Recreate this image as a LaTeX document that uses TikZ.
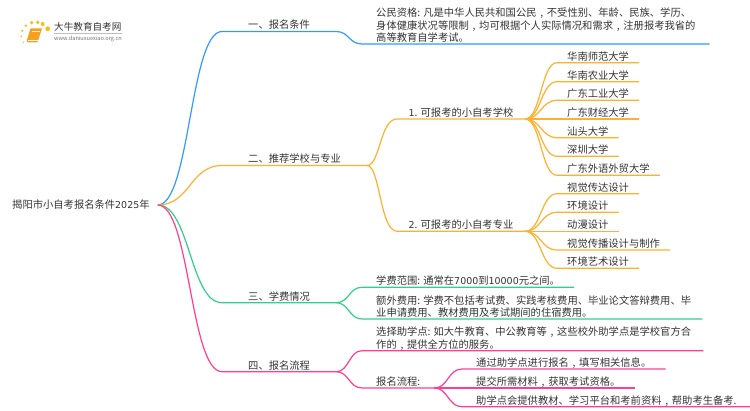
\documentclass[tikz,border=0pt]{standalone}
\usepackage{fontspec}
\setmainfont{Noto Sans CJK SC}
\newfontfamily\numfont{DejaVu Sans}[Scale=0.92]
\newcommand{\zhcomma}{\hbox to 1em{\hss,\hss}}
\definecolor{bluebranch}{HTML}{3299FF}
\definecolor{orangebranch}{HTML}{FFB02E}
\definecolor{greenbranch}{HTML}{2FD08A}
\definecolor{pinkbranch}{HTML}{FF3D94}
\definecolor{inktext}{HTML}{333333}
\definecolor{logoorange}{HTML}{F7A01E}
\tikzset{
  topic/.style={anchor=south west, inner ysep=0pt, inner xsep=#1, align=left, text=inktext,
    text depth=2.4pt, font=\fontsize{10.3}{12.4}\selectfont},
  topic/.default=14pt,
  blueline/.style={draw=bluebranch, line width=1.2pt},
  orangeline/.style={draw=orangebranch, line width=1.2pt},
  greenline/.style={draw=greenbranch, line width=1.2pt},
  pinkline/.style={draw=pinkbranch, line width=1.2pt},
  sundot/.style={fill=logoorange!70!yellow, draw=none}
}
\begin{document}
\begin{tikzpicture}[x=1pt, y=-1pt]
    \useasboundingbox (0,0) rectangle (750,410);

    %----------------------
    % LOGO
    %----------------------
    \fill[sundot] (47.7,28.7) circle (2.4);
    \fill[sundot] (42.7,24) circle (2);
    \fill[sundot] (37.7,22.3) circle (1.9);
    \fill[sundot] (31.7,22.7) circle (1.8);
    \fill[sundot] (26,25.7) circle (1.4);
    \fill[sundot] (22.3,30.7) circle (1.2);
    \fill[sundot] (21.3,36.3) circle (1);
    \fill[sundot] (23.3,42.3) circle (.8);
    % Book
    \fill[logoorange] (30.5,28.3) -- (42,28.3) -- (38,41) -- (37,42.3) -- (28,42.3) -- (26.7,41) -- cycle;
    \draw[white, line width=.6pt] (28,40) -- (38,40);
    \draw[white!80!logoorange, line width=.5pt] (32,31) -- (39.5,31);
    \node[inner sep=0pt, anchor=west, text=inktext, font=\fontsize{9.6}{11}\selectfont] (logoname) at (54,27) {大牛教育自考网};
    \draw[black!25, line width=.4pt] (54,33) -- (122,33);
    \node[inner sep=0pt, anchor=west, text=black!55, font=\fontsize{5.6}{7}\selectfont] (logourl) at (54,38.5) {www.daniuxuexiao.org.cn};

    %----------------------
    % ROOT
    %----------------------
    \node[anchor=west, inner xsep=8pt, inner ysep=2pt, text=inktext, font=\fontsize{10.3}{12.4}\selectfont] (root) at (4,205) {揭阳市小自考报名条件{\numfont 2025}年};

    %----------------------
    % BRANCH 1
    %----------------------
    \node[topic=26pt] (reg) at (222,31.5) {一、报名条件};
    \node[topic] (regtext) at (362,44) {公民资格: 凡是中华人民共和国公民\zhcomma 不受性别、年龄、民族、学历、\\身体健康状况等限制\zhcomma 均可根据个人实际情况和需求\zhcomma 注册报考我省的\\高等教育自学考试。};

    \draw[blueline] (root.east) .. controls (190,205) and (190,31.5) .. (reg.south west) -- (reg.south east);
    \draw[blueline] (reg.south east) .. controls (349,31.5) and (349,44) .. (regtext.south west) -- (regtext.south east);

    %----------------------
    % BRANCH 2
    %----------------------
    \node[topic=26pt] (rec) at (222,165.5) {二、推荐学校与专业};
    \node[topic=11.5pt] (school) at (397,119) {{\numfont 1}. 可报考的小自考学校};
    \node[topic=11.5pt] (major) at (397,231.3) {{\numfont 2}. 可报考的小自考专业};

    \draw[orangeline] (root.east) .. controls (190,205) and (190,165.5) .. (rec.south west) -- (rec.south east);
    \draw[orangeline] (rec.south east) .. controls (380,165.5) and (380,119) .. (school.south west) -- (school.south east);
    \draw[orangeline] (rec.south east) .. controls (380,165.5) and (380,231.3) .. (major.south west) -- (major.south east);

    % Schools
    \node[topic=10pt] (s1) at (557,62.7) {华南师范大学};
    \node[topic=10pt] (s2) at (557,81.7) {华南农业大学};
    \node[topic=10pt] (s3) at (557,100.3) {广东工业大学};
    \node[topic=10pt] (s4) at (557,119) {广东财经大学};
    \node[topic=10pt] (s5) at (557,137.7) {汕头大学};
    \node[topic=10pt] (s6) at (557,156.3) {深圳大学};
    \node[topic=10pt] (s7) at (557,175.3) {广东外语外贸大学};

    \draw[orangeline] (school.south east) .. controls (541,119) and (541,62.7) .. (s1.south west) -- (s1.south east);
    \draw[orangeline] (school.south east) .. controls (541,119) and (541,81.7) .. (s2.south west) -- (s2.south east);
    \draw[orangeline] (school.south east) .. controls (541,119) and (541,100.3) .. (s3.south west) -- (s3.south east);
    \draw[orangeline] (school.south east) -- (s4.south west) -- (s4.south east);
    \draw[orangeline] (school.south east) .. controls (541,119) and (541,137.7) .. (s5.south west) -- (s5.south east);
    \draw[orangeline] (school.south east) .. controls (541,119) and (541,156.3) .. (s6.south west) -- (s6.south east);
    \draw[orangeline] (school.south east) .. controls (541,119) and (541,175.3) .. (s7.south west) -- (s7.south east);

    % Majors
    \node[topic=10pt] (m1) at (557,193.7) {视觉传达设计};
    \node[topic=10pt] (m2) at (557,212.3) {环境设计};
    \node[topic=10pt] (m3) at (557,231.3) {动漫设计};
    \node[topic=10pt] (m4) at (557,250) {视觉传播设计与制作};
    \node[topic=10pt] (m5) at (557,268.3) {环境艺术设计};

    \draw[orangeline] (major.south east) .. controls (541,231.3) and (541,193.7) .. (m1.south west) -- (m1.south east);
    \draw[orangeline] (major.south east) .. controls (541,231.3) and (541,212.3) .. (m2.south west) -- (m2.south east);
    \draw[orangeline] (major.south east) -- (m3.south west) -- (m3.south east);
    \draw[orangeline] (major.south east) .. controls (541,231.3) and (541,250) .. (m4.south west) -- (m4.south east);
    \draw[orangeline] (major.south east) .. controls (541,231.3) and (541,268.3) .. (m5.south west) -- (m5.south east);

    %----------------------
    % BRANCH 3
    %----------------------
    \node[topic=26pt] (fee) at (222,302.7) {三、学费情况};
    \node[topic] (feerange) at (362,287.3) {学费范围: 通常在{\numfont 7000}到{\numfont 10000}元之间。};
    \node[topic] (feeextra) at (362,319) {额外费用: 学费不包括考试费、实践考核费用、毕业论文答辩费用、毕\\业申请费用、教材费用及考试期间的住宿费用。};

    \draw[greenline] (root.east) .. controls (190,205) and (190,302.7) .. (fee.south west) -- (fee.south east);
    \draw[greenline] (fee.south east) .. controls (349,302.7) and (349,287.3) .. (feerange.south west) -- (feerange.south east);
    \draw[greenline] (fee.south east) .. controls (349,302.7) and (349,319) .. (feeextra.south west) -- ([xshift=-3pt]feeextra.south east);

    %----------------------
    % BRANCH 4
    %----------------------
    \node[topic=26pt] (proc) at (222,371.7) {四、报名流程};
    \node[topic] (pick) at (362,350.7) {选择助学点: 如大牛教育、中公教育等\zhcomma 这些校外助学点是学校官方合\\作的\zhcomma 提供全方位的服务。};
    \node[topic] (flow) at (362,388) {报名流程:};
    \node[topic] (f1) at (462,369) {通过助学点进行报名\zhcomma 填写相关信息。};
    \node[topic] (f2) at (462,388) {提交所需材料\zhcomma 获取考试资格。};
    \node[topic] (f3) at (462,406.7) {助学点会提供教材、学习平台和考前资料\zhcomma 帮助考生备考.};

    \draw[pinkline] (root.east) .. controls (190,205) and (190,371.7) .. (proc.south west) -- (proc.south east);
    \draw[pinkline] (proc.south east) .. controls (349,371.7) and (349,350.7) .. (pick.south west) -- ([xshift=-2pt]pick.south east);
    \draw[pinkline] (proc.south east) .. controls (349,371.7) and (349,388) .. (flow.south west) -- (flow.south east);
    \draw[pinkline] (flow.south east) .. controls (448,388) and (448,369) .. (f1.south west) -- (f1.south east);
    \draw[pinkline] (flow.south east) -- (f2.south west) -- (f2.south east);
    \draw[pinkline] (flow.south east) .. controls (448,388) and (448,406.7) .. (f3.south west) -- (f3.south east);

\end{tikzpicture}
\end{document}
